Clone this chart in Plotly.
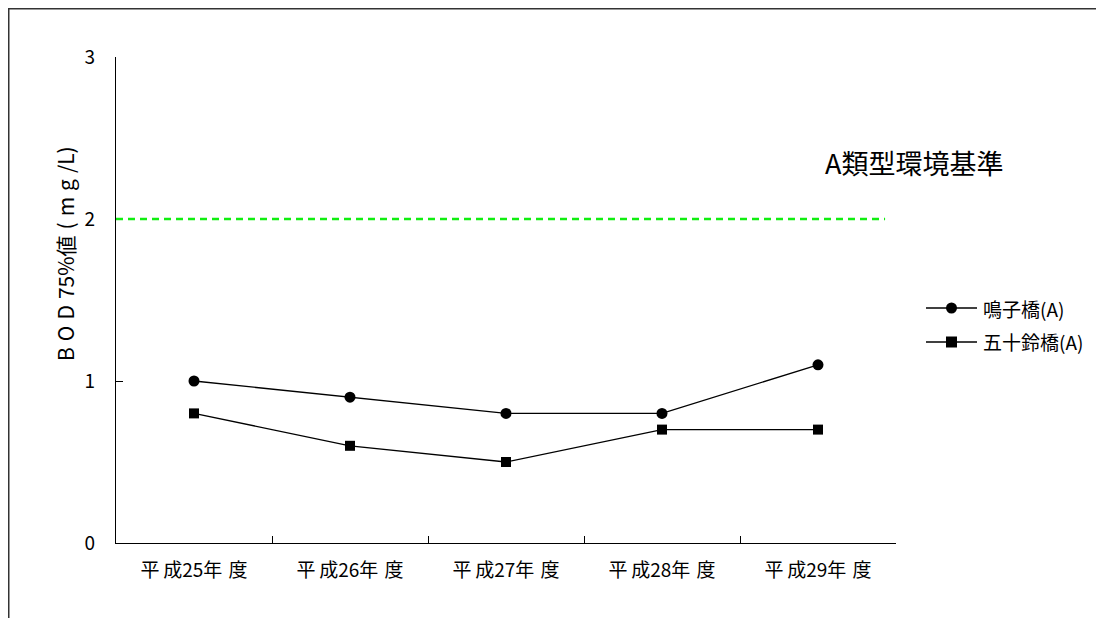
import plotly.graph_objects as go

categories = ["平成25年度", "平成26年度", "平成27年度", "平成28年度", "平成29年度"]
naruko = [1.0, 0.9, 0.8, 0.8, 1.1]
isuzu = [0.8, 0.6, 0.5, 0.7, 0.7]
standard_value = 2
series_names = ["鳴子橋(A)", "五十鈴橋(A)"]
y_ticks = [0, 1, 2, 3]

FONT = "Noto Sans CJK JP"
OFF = 8  # page body margin
W, H = 1096, 610
L, T = 116 - OFF, 57 - OFF
pw, ph = 780, 486
R, B = W - L - pw, H - T - ph


def px_x(px):
    return (px - OFF - L) / pw


def px_y(py):
    return (H - B - (py - OFF)) / ph


def spaced(label):
    # mimic the wide letter spacing of the original labels
    return label[0] + "\u2009" + label[1:5] + "\u2004" + label[5:]


fig = go.Figure()
fig.add_trace(go.Scatter(x=categories, y=naruko, name=series_names[0], mode="lines+markers",
                         line=dict(color="black", width=1.3),
                         marker=dict(symbol="circle", size=11, color="black")))
fig.add_trace(go.Scatter(x=categories, y=isuzu, name=series_names[1], mode="lines+markers",
                         line=dict(color="black", width=1.3),
                         marker=dict(symbol="square", size=10, color="black")))

fig.add_shape(type="line", xref="x", yref="y", x0=-0.5, x1=4.43, y0=standard_value, y1=standard_value,
              line=dict(color="#11ee11", width=2.5, dash="7px,5px"))

fig.add_annotation(text="A類型環境基準", xref="paper", yref="paper", x=px_x(823), y=px_y(162),
                   xanchor="left", yanchor="middle", showarrow=False,
                   font=dict(family=FONT, size=27, color="black"))
fig.add_annotation(text="B O D 75%値 ( m g /L)".replace(" ", " \u200a"), xref="paper", yref="paper",
                   x=px_x(65), y=px_y(254), xanchor="center", yanchor="middle",
                   textangle=-90, showarrow=False, font=dict(family=FONT, size=21, color="black"))

# custom legend
legend_rows = [(series_names[0], "circle", 308), (series_names[1], "square", 342)]
for name, sym, py in legend_rows:
    fig.add_shape(type="line", xref="paper", yref="paper", x0=px_x(926), x1=px_x(977),
                  y0=px_y(py), y1=px_y(py), line=dict(color="black", width=1.3))
    fig.add_shape(type=("circle" if sym == "circle" else "rect"), xref="paper", yref="paper",
                  xsizemode="pixel", ysizemode="pixel", xanchor=px_x(951.5), yanchor=px_y(py),
                  x0=-5.5, x1=5.5, y0=-5.5, y1=5.5, fillcolor="black", line=dict(width=0))
    fig.add_annotation(text=name, xref="paper", yref="paper", x=px_x(981), y=px_y(py),
                       xanchor="left", yanchor="middle", showarrow=False,
                       font=dict(family=FONT, size=19, color="black"))

# frame
fig.add_shape(type="line", xref="paper", yref="paper", x0=px_x(OFF), x1=px_x(1110),
              y0=px_y(OFF + 0.75), y1=px_y(OFF + 0.75), line=dict(color="#333333", width=1.5))
fig.add_shape(type="line", xref="paper", yref="paper", x0=px_x(OFF + 0.75), x1=px_x(OFF + 0.75),
              y0=px_y(OFF), y1=px_y(625), line=dict(color="#333333", width=1.5))

fig.update_layout(
    width=W, height=H,
    margin=dict(l=L, r=R, t=T, b=B),
    plot_bgcolor="white", paper_bgcolor="white",
    font=dict(family=FONT, size=19, color="black"),
    showlegend=False,
    xaxis=dict(type="category", range=[-0.5, 4.5], showgrid=False, showline=True, linecolor="black",
               linewidth=1.3, ticks="inside", ticklen=7, tickcolor="black", tickson="boundaries",
               tickvals=categories, ticktext=[spaced(c) for c in categories],
               tickfont=dict(family=FONT, size=19), zeroline=False, ticklabelstandoff=10),
    yaxis=dict(range=[0, 3], tickvals=y_ticks, showgrid=False, showline=True, linecolor="black",
               linewidth=1.3, ticks="inside", ticklen=7, tickcolor="black",
               tickfont=dict(family=FONT, size=19), zeroline=False, ticklabelstandoff=16),
)

fig.write_html("out.html")
